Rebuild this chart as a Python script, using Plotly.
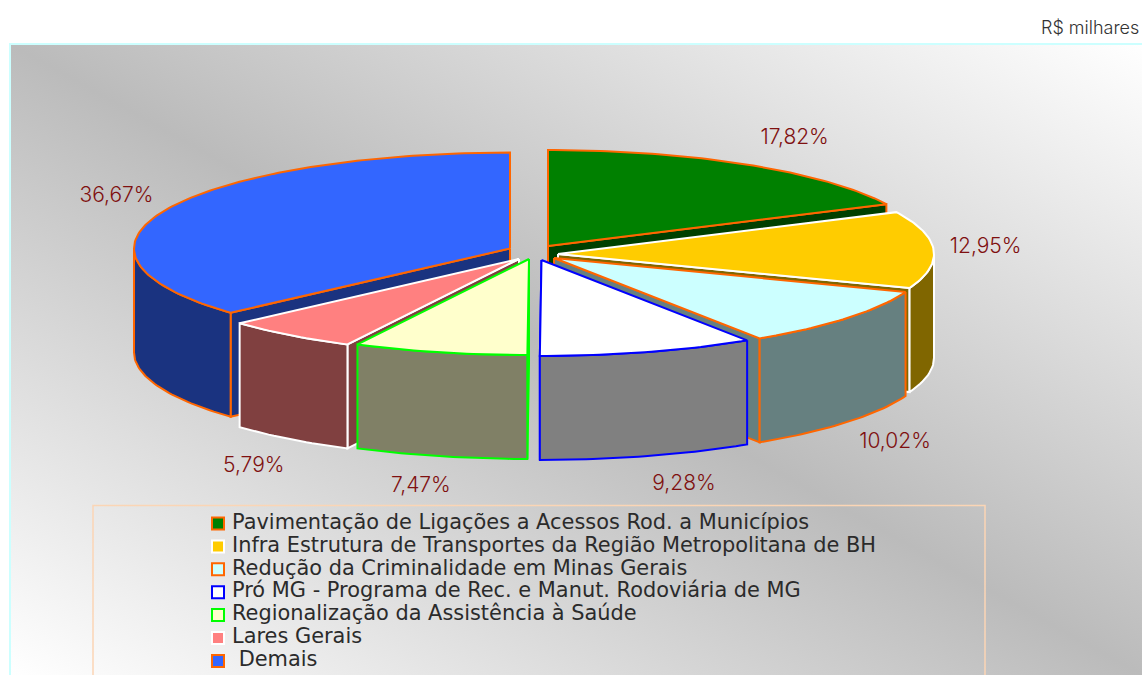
import math
from urllib.parse import quote
import plotly.graph_objects as go

# ---- data ----
categories = [
    "Pavimentação de Ligações a Acessos Rod. a Municípios",
    "Infra Estrutura de Transportes da Região Metropolitana de BH",
    "Redução da Criminalidade em Minas Gerais",
    "Pró MG - Programa de Rec. e Manut. Rodoviária de MG",
    "Regionalização da Assistência à Saúde",
    "Lares Gerais",
    " Demais",
]
shares = [17.82, 12.95, 10.02, 9.28, 7.47, 5.79, 36.67]
unit_label = "R$ milhares"

# ---- style ----
top_colors = ["#008000", "#ffcc00", "#ccffff", "#ffffff", "#ffffcc", "#ff8080", "#3366ff"]
side_colors = ["#004000", "#806600", "#668080", "#808080", "#808066", "#804040", "#1a3380"]
edge_colors = ["#ff6600", "#ffffff", "#ff6600", "#0000ff", "#00ff00", "#ffffff", "#ff6600"]
paint_order = [0, 6, 1, 5, 2, 4, 3]

# ---- layout of the exploded pie (pixels) ----
W, H = 1142, 675
RX, RY, DEPTH = 376, 96, 104
apexes = [(548, 246), (558, 254), (554, 258), (541.5, 260), (529, 259), (519, 259), (510, 248.5)]
label_offsets = [(47, -26), (52, -2), (48, 125), (36, 133), (-19, 134), (-36, 132), (-50, -13)]
FONT = "Inter"
LEGEND_FONT = "DejaVu Sans"


def pt(apex, theta, drop=0):
    a = math.radians(theta)
    return apex[0] + RX * math.sin(a), apex[1] - RY * math.cos(a) + drop


def poly(fig, pts, fill, edge, width=2):
    xs = [p[0] for p in pts] + [pts[0][0]]
    ys = [p[1] for p in pts] + [pts[0][1]]
    fig.add_trace(go.Scatter(
        x=xs, y=ys, mode="lines", fill="toself", fillcolor=fill,
        line=dict(color=edge, width=width), hoverinfo="skip", showlegend=False,
    ))


fig = go.Figure()

bounds = []
acc = 0.0
for s in shares:
    bounds.append((acc * 3.6, (acc + s) * 3.6))
    acc += s

for i in paint_order:
    t0, t1 = bounds[i]
    apex = apexes[i]
    # radial cut facing the viewer
    cut = t1 if (t0 + t1) / 2 < 180 else t0
    p = pt(apex, cut)
    poly(fig, [apex, p, (p[0], p[1] + DEPTH), (apex[0], apex[1] + DEPTH)], side_colors[i], edge_colors[i])
    # outer wall, front half only
    w0, w1 = max(t0, 90), min(t1, 270)
    if w1 > w0:
        n = max(2, int(w1 - w0))
        angles = [w0 + (w1 - w0) * k / n for k in range(n + 1)]
        poly(fig, [pt(apex, a) for a in angles] + [pt(apex, a, DEPTH) for a in reversed(angles)],
             side_colors[i], edge_colors[i])
    # top face
    n = max(2, int(t1 - t0))
    angles = [t0 + (t1 - t0) * k / n for k in range(n + 1)]
    poly(fig, [apex] + [pt(apex, a) for a in angles], top_colors[i], edge_colors[i])

# percentage labels
lx, ly, lt = [], [], []
for i, s in enumerate(shares):
    m = sum(bounds[i]) / 2
    p = pt(apexes[i], m)
    lx.append(p[0] + label_offsets[i][0])
    ly.append(p[1] + label_offsets[i][1])
    lt.append(f"{s:.2f}%".replace(".", ","))
fig.add_trace(go.Scatter(
    x=lx, y=ly, text=lt, mode="text", textposition="middle center",
    textfont=dict(family=FONT, size=21, color="#7f1010", weight=300), hoverinfo="skip", showlegend=False,
))

# legend rows
rows_y = [523.5 + 22.9 * k for k in range(len(categories))]
fig.add_trace(go.Scatter(
    x=[218] * len(categories), y=rows_y, mode="markers",
    marker=dict(symbol="square", size=12, color=top_colors, line=dict(color=edge_colors, width=2)),
    hoverinfo="skip", showlegend=False,
))
fig.add_trace(go.Scatter(
    x=[232] * len(categories), y=rows_y, text=categories, mode="text", textposition="middle right",
    textfont=dict(family=LEGEND_FONT, size=20.9, color="#2b2b2b"), hoverinfo="skip", showlegend=False,
))

svg = ("<svg xmlns='http://www.w3.org/2000/svg' width='1132' height='631' preserveAspectRatio='none'>"
       "<defs><linearGradient id='g' x1='0' y1='1' x2='1' y2='0'>"
       "<stop offset='0' stop-color='#ffffff'/><stop offset='0.5' stop-color='#bbbbbb'/>"
       "<stop offset='1' stop-color='#ffffff'/></linearGradient></defs>"
       "<rect width='1132' height='631' fill='url(#g)'/></svg>")

fig.update_layout(
    width=W, height=H, margin=dict(l=0, r=0, t=0, b=0),
    paper_bgcolor="white", plot_bgcolor="rgba(0,0,0,0)", showlegend=False,
    xaxis=dict(range=[0, W], visible=False, fixedrange=True),
    yaxis=dict(range=[H, 0], visible=False, fixedrange=True),
    images=[dict(source="data:image/svg+xml," + quote(svg), xref="x", yref="y", x=10, y=44,
                 sizex=1132, sizey=631, sizing="stretch", layer="below", xanchor="left", yanchor="top")],
    shapes=[
        dict(type="rect", x0=10, y0=44, x1=W + 10, y1=H + 10, line=dict(color="#ccffff", width=2), layer="above"),
        dict(type="rect", x0=93, y0=505.5, x1=985, y1=H + 10, line=dict(color="#fbd5b5", width=1.5), layer="above"),
    ],
    annotations=[dict(text=unit_label, x=1141, y=27, xref="x", yref="y", xanchor="right", yanchor="middle",
                      showarrow=False, font=dict(family=FONT, size=18, color="#333333", weight=300))],
)

fig.write_html("out.html", config={"displayModeBar": False},
               post_script="document.body.style.margin='0';document.documentElement.style.overflow='hidden';")
